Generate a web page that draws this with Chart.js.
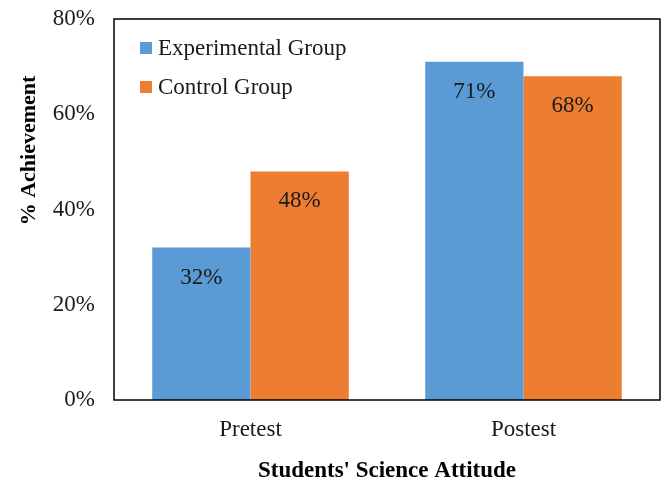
<!DOCTYPE html>
<html>
<head>
<meta charset="utf-8">
<script src="https://cdn.jsdelivr.net/npm/chart.js@4/dist/chart.umd.min.js"></script>
<style>
  html, body { margin: 0; padding: 0; background: #fff; }
  #wrap { width: 664px; height: 485px; }
</style>
</head>
<body>
<div id="wrap"><canvas id="c" width="664" height="485"></canvas></div>
<script>
const categories = ['Pretest', 'Postest'];
const experimental = [32, 71];
const control = [48, 68];
const yTicks = [0, 20, 40, 60, 80];
const seriesNames = ['Experimental Group', 'Control Group'];
const yTitle = '% Achievement';
const xTitle = "Students' Science Attitude";

const FONT = "'Liberation Serif', 'DejaVu Serif', serif";
const FS = 23;
const BLUE = '#5B9BD5';
const ORANGE = '#ED7D31';

// Frame around the plotting area
const frame = {
  id: 'frame',
  afterDraw(chart) {
    const a = chart.chartArea, ctx = chart.ctx;
    ctx.save();
    ctx.strokeStyle = '#000';
    ctx.lineWidth = 1.5;
    ctx.strokeRect(a.left, a.top, a.right - a.left, a.bottom - a.top);
    ctx.restore();
  }
};

// Vertical axis title, set a little above the middle of the axis
const sideTitle = {
  id: 'sideTitle',
  afterDraw(chart) {
    const a = chart.chartArea, ctx = chart.ctx;
    ctx.save();
    ctx.font = 'bold 22px ' + FONT;
    ctx.fillStyle = '#000';
    ctx.textAlign = 'center';
    ctx.textBaseline = 'middle';
    ctx.translate(29, a.top + (a.bottom - a.top) * 0.345);
    ctx.rotate(-Math.PI / 2);
    ctx.fillText(yTitle, 0, 0);
    ctx.restore();
  }
};

// Percent labels placed inside each bar, just below its top
const barValues = {
  id: 'barValues',
  afterDatasetsDraw(chart) {
    const ctx = chart.ctx;
    ctx.save();
    ctx.font = FS + 'px ' + FONT;
    ctx.fillStyle = '#1a1a1a';
    ctx.textAlign = 'center';
    ctx.textBaseline = 'middle';
    chart.data.datasets.forEach((ds, i) => {
      chart.getDatasetMeta(i).data.forEach((bar, j) => {
        ctx.fillText(ds.data[j] + '%', bar.x, bar.y + 30);
      });
    });
    ctx.restore();
  }
};

// Legend drawn inside the top-left corner of the plot
const innerLegend = {
  id: 'innerLegend',
  afterDraw(chart) {
    const a = chart.chartArea, ctx = chart.ctx;
    ctx.save();
    ctx.font = FS + 'px ' + FONT;
    ctx.textBaseline = 'middle';
    ctx.textAlign = 'left';
    chart.data.datasets.forEach((ds, i) => {
      const y = a.top + 29 + i * 39;
      ctx.fillStyle = ds.backgroundColor;
      ctx.fillRect(a.left + 26, y - 6, 12, 12);
      ctx.fillStyle = '#1a1a1a';
      ctx.fillText(ds.label, a.left + 44, y + 1);
    });
    ctx.restore();
  }
};

new Chart(document.getElementById('c'), {
  type: 'bar',
  data: {
    labels: categories,
    datasets: [
      { label: seriesNames[0], data: experimental, backgroundColor: BLUE },
      { label: seriesNames[1], data: control, backgroundColor: ORANGE }
    ]
  },
  options: {
    responsive: false,
    animation: false,
    devicePixelRatio: 1,
    layout: { padding: { left: 0, top: 19, right: 4, bottom: 0 } },
    datasets: { bar: { categoryPercentage: 0.72, barPercentage: 1.0 } },
    plugins: { legend: { display: false }, tooltip: { enabled: false } },
    scales: {
      x: {
        grid: { display: false, drawTicks: false },
        border: { display: false },
        ticks: { color: '#1a1a1a', font: { family: FONT, size: FS }, padding: 16 },
        title: {
          display: true, text: xTitle, color: '#000',
          font: { family: FONT, size: 23, weight: 'bold' }, padding: { top: 13, bottom: 0 }
        },
        afterFit(s) { s.height = 85; s.paddingLeft = 0; s.paddingRight = 0; }
      },
      y: {
        min: 0, max: 80,
        afterBuildTicks(s) { s.ticks = yTicks.map(v => ({ value: v })); },
        grid: { display: false, drawTicks: false },
        border: { display: false },
        ticks: { color: '#1a1a1a', font: { family: FONT, size: FS }, padding: 19, callback: v => v + '%' },
        afterFit(s) { s.width = 114; s.paddingTop = 0; s.paddingBottom = 0; }
      }
    }
  },
  plugins: [frame, sideTitle, barValues, innerLegend]
});
</script>
</body>
</html>
